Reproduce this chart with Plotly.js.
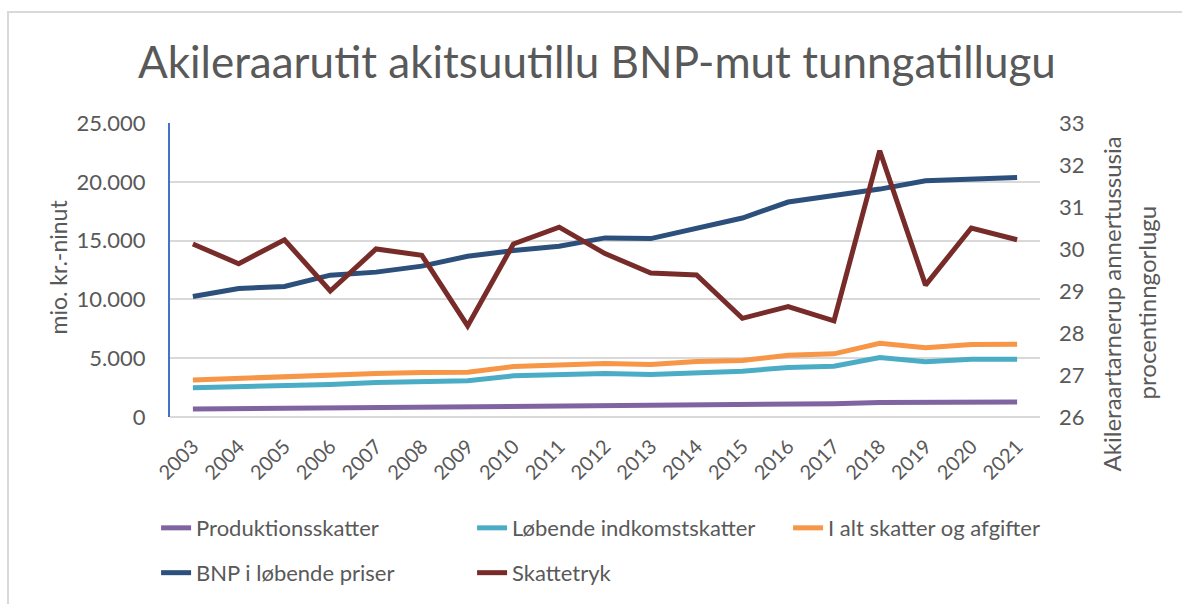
<!DOCTYPE html>
<html>
<head>
<meta charset="utf-8">
<script src="https://cdn.plot.ly/plotly-3.0.1.min.js"></script>
<style>
html,body{margin:0;padding:0;background:#fff;}
#wrap{position:relative;width:1182px;height:604px;overflow:hidden;}
#chart{position:absolute;left:0;top:0;width:1182px;height:604px;}
#frame{position:absolute;left:7px;top:11px;width:1300px;height:700px;border:2px solid #d9d9d9;pointer-events:none;}
</style>
</head>
<body>
<div id="wrap"><div id="frame"></div><div id="chart"></div></div>
<script>
const years = ['2003','2004','2005','2006','2007','2008','2009','2010','2011','2012','2013','2014','2015','2016','2017','2018','2019','2020','2021'];
const produktionsskatter = [680,710,760,735,790,820,820,820,875,960,905,1020,1020,1100,1130,1240,1240,1270,1270];
const indkomstskatter = [2490,2570,2660,2770,2940,3020,3080,3500,3640,3700,3620,3785,3900,4210,4320,5060,4690,4920,4920];
const altSkatter = [3140,3300,3420,3530,3700,3785,3810,4290,4430,4550,4460,4720,4800,5250,5370,6270,5900,6160,6190];
const bnp = [10250,10930,11100,12060,12320,12830,13670,14150,14520,15230,15170,16020,16920,18280,18810,19380,20080,20230,20370];
const skattetryk = [30.12,29.65,30.22,29.0,30.0,29.85,28.17,30.12,30.52,29.89,29.43,29.38,28.35,28.63,28.29,32.34,29.14,30.5,30.22];
const titleText = 'Akileraarutit akitsuutillu BNP-mut tunngatillugu';
const leftTitle = 'mio. kr.-ninut';
const rightTitle1 = 'Akileraartarnerup annertussusia';
const rightTitle2 = 'procentinngorlugu';

const FONT = 'Lato, "Open Sans", sans-serif';
const GREY = '#595959';
function tr(name, y, color, axis, legend){
  return {x: years, y: y, name: name, type: 'scatter', mode: 'lines',
    line: {color: color, width: 5, shape: 'linear'}, yaxis: axis, legend: legend};
}
const data = [
  tr('Produktionsskatter', produktionsskatter, '#8064A2', 'y', 'legend'),
  tr('Løbende indkomstskatter', indkomstskatter, '#4BACC6', 'y', 'legend'),
  tr('I alt skatter og afgifter', altSkatter, '#F79646', 'y', 'legend'),
  tr('BNP i løbende priser', bnp, '#2C4F7C', 'y', 'legend2'),
  tr('Skattetryk', skattetryk, '#772C2A', 'y2', 'legend2')
];
const legendBase = {orientation: 'h', xanchor: 'left', yanchor: 'middle', x: -0.016,
  font: {family: FONT, size: 22, color: GREY}, entrywidth: 271, entrywidthmode: 'pixels',
  bgcolor: 'rgba(0,0,0,0)', itemwidth: 30, traceorder: 'normal'};
// plot area: x 170..1040, y 123..418
const PW = 870, PH = 295;
function px(x){ return (x - 170) / PW; }
function py(y){ return (418 - y) / PH; }
const layout = {
  width: 1182, height: 604,
  margin: {l: 170, r: 142, t: 123, b: 186},
  paper_bgcolor: 'rgba(0,0,0,0)', plot_bgcolor: 'rgba(0,0,0,0)',
  title: {text: titleText, font: {family: FONT, size: 44, color: GREY},
    x: 0.505, xanchor: 'center', y: 0.897, yanchor: 'middle'},
  xaxis: {type: 'category', range: [-0.5, 18.5], tickangle: -45, showgrid: false, zeroline: false,
    showline: false, ticks: '', ticklabelstandoff: 13, tickfont: {family: FONT, size: 20, color: GREY}, automargin: false},
  yaxis: {range: [0, 25000], dtick: 5000, tickformat: ',d',
    showgrid: true, gridcolor: '#d9d9d9', gridwidth: 2, zeroline: true, zerolinecolor: '#d9d9d9', zerolinewidth: 2,
    showline: true, linecolor: '#4472C4', linewidth: 2, ticks: '', ticklabelstandoff: 18,
    tickfont: {family: FONT, size: 22, color: GREY}, automargin: false},
  yaxis2: {range: [26, 33], dtick: 1, overlaying: 'y', side: 'right', showgrid: false, zeroline: false,
    showline: false, ticks: '', ticklabelstandoff: 18, tickfont: {family: FONT, size: 22, color: GREY},
    automargin: false},
  separators: ',.',
  annotations: [
    {text: leftTitle, xref: 'paper', yref: 'paper', x: px(58), y: py(268), textangle: -90,
      showarrow: false, xanchor: 'center', yanchor: 'middle', font: {family: FONT, size: 23, color: GREY}},
    {text: rightTitle1, xref: 'paper', yref: 'paper', x: px(1111), y: py(305), textangle: -90,
      showarrow: false, xanchor: 'center', yanchor: 'middle', font: {family: FONT, size: 24, color: GREY}},
    {text: rightTitle2, xref: 'paper', yref: 'paper', x: px(1146), y: py(303), textangle: -90,
      showarrow: false, xanchor: 'center', yanchor: 'middle', font: {family: FONT, size: 24, color: GREY}}
  ],
  legend: Object.assign({}, legendBase, {y: -0.373}),
  legend2: Object.assign({}, legendBase, {y: -0.525}),
  showlegend: true
};
Plotly.newPlot('chart', data, layout, {displayModeBar: false, staticPlot: true});
</script>
</body>
</html>
